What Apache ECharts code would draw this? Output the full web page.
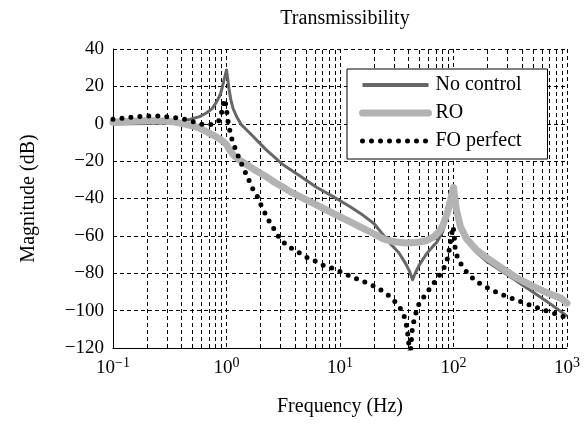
<!DOCTYPE html>
<html>
<head>
<meta charset="utf-8">
<script src="https://cdn.jsdelivr.net/npm/echarts@6/dist/echarts.min.js"></script>
<style>
  html, body { margin: 0; padding: 0; background: #fff; }
  #chart { width: 586px; height: 425px; }
</style>
</head>
<body>
<div id="chart"></div>
<script>
// values (frequency in Hz, magnitude in dB)
const noControlFreq = [0.1, 0.2, 0.3, 0.4, 0.48, 0.58, 0.67, 0.75, 0.82, 0.88, 0.92, 0.95, 0.97, 1.0, 1.03, 1.05, 1.09, 1.14, 1.23, 1.35, 1.61, 1.97, 2.24, 2.6, 3.16, 3.7, 4.45, 6.2, 8.7, 12.2, 16, 20, 27.5, 33, 38, 41, 43.6, 46, 50, 58, 66, 71, 80, 88, 94, 100, 106, 115, 130, 160, 200, 300, 500, 700, 880, 1000];
const noControlDb = [-0.1, 0.2, 0.4, 1.2, 2.4, 3.8, 5.9, 8.2, 11.8, 15.5, 19.8, 23.5, 25.5, 28.8, 23, 19, 13, 8.3, 3.8, -0.5, -5.1, -10.5, -14, -17.5, -22, -24.8, -28, -34, -39, -44.3, -49, -53.5, -63.9, -69, -75, -79, -83.5, -80, -75.5, -69.5, -65.5, -63.5, -58, -50, -42, -33, -42, -54, -62, -69, -74, -81, -90, -96, -100.5, -103];

const roFreq = [0.1, 0.15, 0.21, 0.28, 0.34, 0.4, 0.45, 0.52, 0.58, 0.67, 0.77, 0.86, 0.94, 1.0, 1.05, 1.15, 1.31, 1.61, 1.9, 2.24, 2.65, 3.16, 3.7, 4.45, 6.2, 8.7, 12.2, 16, 20, 24, 30, 38, 47, 57, 66.6, 75, 81, 88, 94, 98, 100, 102, 106, 115, 130, 159, 200, 255, 350, 505, 700, 880, 1000];
const roDb = [0.8, 1.4, 1.7, 1.5, 1.0, 0.2, -0.4, -1.4, -2.4, -4.3, -6.2, -8.0, -9.6, -11, -13.5, -16.7, -19.5, -23, -25.8, -28.3, -31.3, -34, -36.6, -39, -43.4, -47.9, -52.4, -56, -59, -61.6, -63.2, -63.8, -63.6, -62.6, -60.7, -57.5, -54, -48, -41, -36, -34, -38, -46, -55, -61.5, -67.5, -72, -76.4, -82, -87, -91, -93.3, -96];

const foFreq = [0.1, 0.123, 0.156, 0.205, 0.256, 0.318, 0.39, 0.477, 0.58, 0.71, 0.8, 0.86, 0.92, 0.954, 0.99, 1.02, 1.05, 1.11, 1.19, 1.29, 1.41, 1.54, 1.68, 1.87, 2.04, 2.25, 2.5, 2.63, 2.9, 3.4, 4.1, 4.9, 6.0, 7.2, 8.9, 10.8, 13.1, 16.1, 19.6, 23.6, 27.8, 32.5, 36.2, 38.3, 39.6, 40.5, 41.5, 42.3, 43.5, 45.9, 48.1, 54.6, 62.1, 71, 80.5, 87.4, 91.7, 94.5, 97, 99.3, 101.5, 103.4, 108.5, 120.6, 138.4, 163, 196, 239, 290, 355, 434, 532, 650, 796, 1000];
const foDb = [2.4, 3.0, 3.8, 4.2, 4.2, 3.6, 2.9, 1.7, -0.1, -0.6, 0.2, 1.7, 7.4, 13.1, 10, 3.0, -1.5, -7.8, -13.1, -18.4, -23.8, -28.8, -34.2, -39, -44.3, -49.3, -54.7, -56.4, -60.7, -65.2, -68, -71, -73.4, -75.9, -77.6, -80, -82.2, -84.4, -86.7, -89.4, -92.6, -96.9, -101.5, -107.2, -113, -118.3, -126, -118, -108.5, -103.2, -97.8, -92.8, -88, -83.2, -78.6, -73.4, -67.5, -62, -58, -55, -60, -66.6, -71.9, -76.7, -81.2, -84.8, -87.6, -90.1, -92.3, -94.2, -96.2, -98.2, -100, -101.7, -104];

// minor log grid lines
const minorFreqs = [0.2, 0.3, 0.4, 0.5, 0.6, 0.7, 0.8, 0.9, 2, 3, 4, 5, 6, 7, 8, 9, 20, 30, 40, 50, 60, 70, 80, 90, 200, 300, 400, 500, 600, 700, 800, 900];
const xTickExponents = ['−1', '0', '1', '2', '3'];

const FONT = 'Liberation Serif';
const pairs = (xs, ys) => xs.map((x, i) => [x, ys[i]]);
const gridDash = { color: '#000', width: 1, type: [4, 3] };
const noSymbol = { color: 'rgba(0,0,0,0)', borderWidth: 0, opacity: 0 };

const chart = echarts.init(document.getElementById('chart'));
chart.setOption({
  animation: false,
  backgroundColor: '#fff',
  title: {
    text: 'Transmissibility',
    left: 340,
    top: 4,
    textAlign: 'center',
    textStyle: { fontFamily: FONT, fontSize: 20, fontWeight: 'normal', color: '#000' }
  },
  grid: { left: 113, right: 19, top: 49, bottom: 77 },
  legend: {
    orient: 'vertical',
    left: 347,
    top: 69,
    padding: [6, 12, 8, 12],
    itemGap: 8,
    itemWidth: 66,
    itemHeight: 14,
    backgroundColor: '#fff',
    borderColor: '#000',
    borderWidth: 1,
    borderRadius: 0,
    itemStyle: noSymbol,
    textStyle: { fontFamily: FONT, fontSize: 20, color: '#000', width: 100, lineHeight: 20, padding: [0, 0, 0, 2] },
    data: [
      { name: 'No control', itemStyle: noSymbol, lineStyle: { width: 4 } },
      { name: 'RO', itemStyle: noSymbol, lineStyle: { width: 7 } },
      { name: 'FO perfect', itemStyle: noSymbol, lineStyle: { width: 5 } }
    ]
  },
  xAxis: {
    type: 'log',
    logBase: 10,
    min: 0.1,
    max: 1000,
    name: 'Frequency (Hz)',
    nameLocation: 'middle',
    nameGap: 49,
    nameTextStyle: { fontFamily: FONT, fontSize: 20, color: '#000' },
    axisLine: { show: true, onZero: false, lineStyle: { color: '#000', width: 1 } },
    axisTick: { show: false },
    splitLine: { show: true, lineStyle: gridDash },
    axisLabel: {
      margin: 8,
      color: '#000',
      fontFamily: FONT,
      fontSize: 19,
      formatter: v => '10{sup|' + xTickExponents[Math.round(Math.log10(v)) + 1] + '}',
      rich: {
        sup: { fontFamily: FONT, fontSize: 14, color: '#000', padding: [0, 0, 10, 0] }
      }
    }
  },
  yAxis: {
    type: 'value',
    min: -120,
    max: 40,
    interval: 20,
    name: 'Magnitude (dB)',
    nameLocation: 'middle',
    nameGap: 74,
    nameTextStyle: { fontFamily: FONT, fontSize: 20, color: '#000' },
    axisLine: { show: true, onZero: false, lineStyle: { color: '#000', width: 1 } },
    axisTick: { show: false },
    splitLine: { show: true, lineStyle: gridDash },
    axisLabel: {
      margin: 9,
      color: '#000',
      fontFamily: FONT,
      fontSize: 19,
      formatter: v => String(v).replace('-', '−')
    }
  },
  series: [
    {
      name: 'minor grid',
      type: 'line',
      data: [],
      silent: true,
      z: 1,
      markLine: {
        silent: true,
        symbol: ['none', 'none'],
        label: { show: false },
        lineStyle: gridDash,
        emphasis: { disabled: true },
        z: 1,
        data: minorFreqs.map(f => ({ xAxis: f }))
      }
    },
    {
      name: 'No control',
      type: 'line',
      data: pairs(noControlFreq, noControlDb),
      showSymbol: false,
      symbol: 'none',
      z: 3,
      color: '#676767',
      lineStyle: { color: '#676767', width: 3, join: 'round' }
    },
    {
      name: 'RO',
      type: 'line',
      data: pairs(roFreq, roDb),
      showSymbol: false,
      symbol: 'none',
      z: 4,
      color: '#b3b3b3',
      lineStyle: { color: '#b3b3b3', width: 7, join: 'round', cap: 'round' }
    },
    {
      name: 'FO perfect',
      type: 'line',
      data: pairs(foFreq, foDb),
      showSymbol: false,
      symbol: 'none',
      z: 5,
      color: '#000',
      lineStyle: { color: '#000', width: 5, type: [0, 9], cap: 'round' }
    }
  ]
});
</script>
</body>
</html>
